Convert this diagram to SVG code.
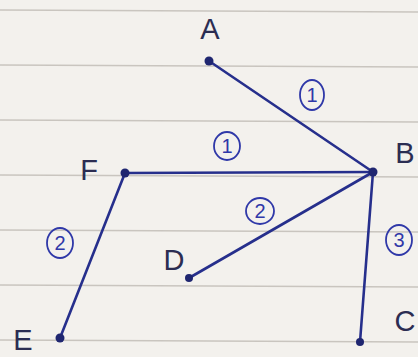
<svg xmlns="http://www.w3.org/2000/svg" width="418" height="357" viewBox="0 0 418 357">
<style>
.rule{stroke:#c9c5bf;stroke-width:1.5}
.edge{stroke:#262f8c;stroke-width:2.6;stroke-linecap:round;fill:none}
.dot{fill:#1f2670}
.lbl{font-family:"Liberation Sans",Arial,sans-serif;font-size:29px;fill:#2b2d52;text-anchor:middle}
.wc{fill:none;stroke:#2f38a8;stroke-width:1.8}
.wt{font-family:"Liberation Sans",Arial,sans-serif;font-size:20px;fill:#2f38a8;text-anchor:middle}
</style>
<rect width="418" height="357" fill="#f3f1ed"/>
<g id="paper">
<line class="rule" x1="0" y1="10" x2="418" y2="12"/>
<line class="rule" x1="0" y1="65" x2="418" y2="67"/>
<line class="rule" x1="0" y1="120" x2="418" y2="122"/>
<line class="rule" x1="0" y1="175" x2="418" y2="177"/>
<line class="rule" x1="0" y1="230" x2="418" y2="232"/>
<line class="rule" x1="0" y1="285" x2="418" y2="287"/>
<line class="rule" x1="0" y1="340" x2="418" y2="342"/>
</g>
<g id="connectors">
<line class="edge" x1="209" y1="61" x2="373" y2="172" stroke="#1e2260"/>
<line class="edge" x1="125" y1="173" x2="373" y2="172"/>
<line class="edge" x1="373" y1="172" x2="189" y2="278"/>
<line class="edge" x1="373" y1="172" x2="360" y2="342"/>
<line class="edge" x1="125" y1="173" x2="60" y2="338"/>
<g id="w-AB"><ellipse class="wc" cx="312" cy="95" rx="12" ry="15"/><text class="wt" x="312" y="102">1</text></g>
<g id="w-FB"><ellipse class="wc" cx="227" cy="146" rx="13" ry="14"/><text class="wt" x="227" y="153">1</text></g>
<g id="w-BD"><ellipse class="wc" cx="260" cy="211" rx="14" ry="13"/><text class="wt" x="260" y="218">2</text></g>
<g id="w-FE"><ellipse class="wc" cx="60" cy="243" rx="13" ry="15"/><text class="wt" x="60" y="250">2</text></g>
<g id="w-BC"><ellipse class="wc" cx="399" cy="240" rx="13" ry="15"/><text class="wt" x="399" y="247">3</text></g>
</g>
<g id="A"><circle class="dot" cx="209" cy="61" r="4.5"/><text class="lbl" x="210" y="39">A</text></g>
<g id="B"><circle class="dot" cx="373" cy="172" r="4.5"/><text class="lbl" x="405" y="163">B</text></g>
<g id="C"><circle class="dot" cx="360" cy="342" r="4"/><text class="lbl" x="405" y="331">C</text></g>
<g id="D"><circle class="dot" cx="189" cy="278" r="4"/><text class="lbl" x="174" y="270">D</text></g>
<g id="E"><circle class="dot" cx="60" cy="338" r="4.5"/><text class="lbl" x="23" y="350">E</text></g>
<g id="F"><circle class="dot" cx="125" cy="173" r="4.5"/><text class="lbl" x="89" y="180">F</text></g>
</svg>
